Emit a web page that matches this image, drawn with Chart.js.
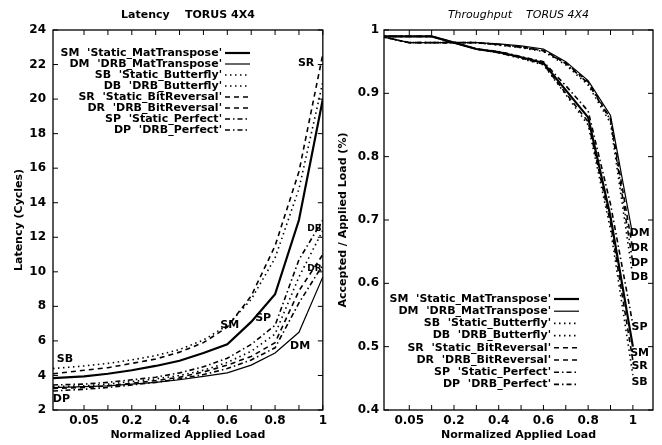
<!DOCTYPE html>
<html>
<head>
<meta charset="utf-8">
<script src="https://cdn.jsdelivr.net/npm/chart.js@4/dist/chart.umd.min.js"></script>
<style>
body { margin: 0; background: #fff; }
#wrap { position: relative; width: 662px; height: 445px; }
canvas { position: absolute; top: 0; }
</style>
</head>
<body>
<div id="wrap">
  <canvas id="latChart" width="331" height="445" style="left:0"></canvas>
  <canvas id="thrChart" width="331" height="445" style="left:331px"></canvas>
</div>
<script>
// load values (axis units; label "0.05" sits at 0)
const loads = [-0.13, 0, 0.1, 0.2, 0.3, 0.4, 0.5, 0.6, 0.7, 0.8, 0.9, 1.0];

const codes = ['SM', 'DM', 'SB', 'DB', 'SR', 'DR', 'SP', 'DP'];
const names = ["'Static_MatTranspose'", "'DRB_MatTranspose'", "'Static_Butterfly'", "'DRB_Butterfly'",
               "'Static_BitReversal'", "'DRB_BitReversal'", "'Static_Perfect'", "'DRB_Perfect'"];

// latency (cycles)
const latSM = [3.85, 3.95, 4.1, 4.3, 4.55, 4.85, 5.3, 5.8, 7.1, 8.7, 13.0, 20.0];
const latDM = [3.3, 3.35, 3.4, 3.5, 3.6, 3.75, 3.95, 4.15, 4.6, 5.3, 6.5, 9.7];
const latSB = [4.4, 4.55, 4.7, 4.9, 5.15, 5.5, 6.05, 6.9, 8.4, 10.8, 14.8, 21.0];
const latDB = [3.35, 3.4, 3.5, 3.65, 3.8, 4.0, 4.3, 4.75, 5.4, 6.4, 9.7, 12.4];
const latSR = [4.1, 4.3, 4.45, 4.7, 4.95, 5.35, 5.9, 6.8, 8.6, 11.5, 15.8, 22.6];
const latDR = [3.25, 3.3, 3.4, 3.55, 3.7, 3.9, 4.2, 4.6, 5.1, 5.9, 8.9, 11.0];
const latSP = [3.45, 3.5, 3.6, 3.75, 3.9, 4.15, 4.5, 5.0, 5.8, 6.9, 10.7, 13.0];
const latDP = [3.1, 3.2, 3.3, 3.45, 3.6, 3.8, 4.05, 4.4, 4.9, 5.6, 8.2, 10.4];

// accepted / applied load
const thrSM = [0.99, 0.99, 0.99, 0.98, 0.97, 0.965, 0.957, 0.948, 0.905, 0.862, 0.705, 0.50];
const thrDM = [0.99, 0.98, 0.98, 0.98, 0.98, 0.978, 0.975, 0.97, 0.95, 0.92, 0.865, 0.675];
const thrSB = [0.99, 0.99, 0.99, 0.98, 0.97, 0.964, 0.955, 0.945, 0.898, 0.85, 0.685, 0.455];
const thrDB = [0.99, 0.98, 0.98, 0.98, 0.98, 0.976, 0.972, 0.966, 0.945, 0.913, 0.853, 0.61];
const thrSR = [0.99, 0.99, 0.99, 0.98, 0.97, 0.964, 0.956, 0.946, 0.90, 0.855, 0.695, 0.478];
const thrDR = [0.99, 0.98, 0.98, 0.98, 0.98, 0.977, 0.973, 0.968, 0.948, 0.918, 0.86, 0.653];
const thrSP = [0.99, 0.99, 0.99, 0.98, 0.97, 0.966, 0.958, 0.95, 0.912, 0.872, 0.725, 0.535];
const thrDP = [0.99, 0.98, 0.98, 0.98, 0.98, 0.977, 0.973, 0.967, 0.947, 0.916, 0.858, 0.632];

// ticks
const xTickValues = [0, 0.1, 0.2, 0.3, 0.4, 0.5, 0.6, 0.7, 0.8, 0.9, 1.0];
const xLabelValues = [0, 0.2, 0.4, 0.6, 0.8, 1.0];
const xLabelTexts = ['0.05', '0.2', '0.4', '0.6', '0.8', '1'];
const latTicks = [2, 4, 6, 8, 10, 12, 14, 16, 18, 20, 22, 24];
const thrTicks = [0.4, 0.5, 0.6, 0.7, 0.8, 0.9, 1.0];
const thrTickTexts = ['0.4', '0.5', '0.6', '0.7', '0.8', '0.9', '1'];

// curve tags [text, load, value, font size]
const latTags = [['SR', 0.93, 22.1, 11], ['SM', 0.61, 6.9, 11], ['SP', 0.75, 7.3, 11], ['DM', 0.905, 5.7, 11],
                 ['DB', 0.965, 12.5, 9], ['DR', 0.965, 10.2, 9], ['SB', -0.08, 4.95, 11], ['DP', -0.095, 2.6, 11]];
const thrTags = [['DM', 1.03, 0.68, 11], ['DR', 1.03, 0.655, 11], ['DP', 1.03, 0.632, 11], ['DB', 1.03, 0.61, 11],
                 ['SP', 1.03, 0.531, 11], ['SM', 1.03, 0.49, 11], ['SR', 1.03, 0.47, 11], ['SB', 1.03, 0.444, 11]];

const lineStyle = {
  SM: { width: 2.2, dash: [] },
  DM: { width: 1.2, dash: [] },
  SB: { width: 1.6, dash: [1.5, 3.5] },
  DB: { width: 1.6, dash: [1.5, 3.5] },
  SR: { width: 1.6, dash: [5, 4] },
  DR: { width: 1.6, dash: [5, 4] },
  SP: { width: 1.6, dash: [5, 3, 1.5, 3] },
  DP: { width: 1.6, dash: [5, 3, 1.5, 3] }
};

const fam = '"DejaVu Sans", sans-serif';

function buildDatasets(byCode) {
  return codes.map(c => ({
    label: c,
    data: loads.map((x, i) => ({ x: x, y: byCode[c][i] })),
    borderColor: '#000',
    borderWidth: lineStyle[c].width,
    borderDash: lineStyle[c].dash,
    pointRadius: 0,
    tension: 0,
    fill: false
  }));
}

// frame, inward ticks, title, legend and tags
function framePlugin(cfg) {
  return {
    id: 'frame',
    afterDraw(chart) {
      const ctx = chart.ctx, a = chart.chartArea;
      const xs = chart.scales.x, ys = chart.scales.y;
      ctx.save();
      ctx.strokeStyle = '#000';
      ctx.lineWidth = 1.3;
      ctx.setLineDash([]);
      ctx.strokeRect(a.left, a.top, a.right - a.left, a.bottom - a.top);
      ctx.lineWidth = 1;
      ctx.beginPath();
      xs.ticks.forEach(t => {
        const px = xs.getPixelForValue(t.value);
        ctx.moveTo(px, a.bottom); ctx.lineTo(px, a.bottom - 5);
        ctx.moveTo(px, a.top); ctx.lineTo(px, a.top + 5);
      });
      ys.ticks.forEach(t => {
        const py = ys.getPixelForValue(t.value);
        ctx.moveTo(a.left, py); ctx.lineTo(a.left + 5, py);
        ctx.moveTo(a.right, py); ctx.lineTo(a.right - 5, py);
      });
      ctx.stroke();

      ctx.fillStyle = '#000';
      ctx.font = cfg.titleFont;
      ctx.textAlign = 'center';
      ctx.textBaseline = 'middle';
      ctx.fillText(cfg.title, (a.left + a.right) / 2, 15);

      // legend
      ctx.font = 'bold 11px ' + fam;
      ctx.textAlign = 'right';
      codes.forEach((c, i) => {
        const y = cfg.legendTop + i * cfg.legendRow;
        ctx.fillText(c + '  ' + names[i], cfg.legendRight, y);
        ctx.beginPath();
        ctx.lineWidth = lineStyle[c].width;
        ctx.setLineDash(lineStyle[c].dash);
        ctx.moveTo(cfg.legendRight + 3, y);
        ctx.lineTo(cfg.legendRight + 28, y);
        ctx.stroke();
      });
      ctx.setLineDash([]);

      ctx.textAlign = 'center';
      cfg.tags.forEach(t => {
        ctx.font = 'bold ' + t[3] + 'px ' + fam;
        ctx.fillText(t[0], xs.getPixelForValue(t[1]), ys.getPixelForValue(t[2]));
      });
      ctx.restore();
    }
  };
}

function makeChart(id, o) {
  return new Chart(document.getElementById(id), {
    type: 'line',
    data: { datasets: buildDatasets(o.series) },
    options: {
      responsive: false,
      animation: false,
      devicePixelRatio: 1,
      layout: { padding: { top: 30, right: o.padRight, left: 0, bottom: 0 } },
      plugins: { legend: { display: false }, tooltip: { enabled: false } },
      scales: {
        x: {
          type: 'linear',
          min: o.xMin, max: o.xMax,
          afterBuildTicks: s => { s.ticks = xTickValues.map(v => ({ value: v })); },
          afterFit: s => { s.height = 35; },
          grid: { display: false, drawTicks: false },
          border: { display: false },
          ticks: {
            autoSkip: false, maxRotation: 0, padding: 4, color: '#000',
            font: { family: fam, size: 12, weight: 'bold' },
            callback: v => {
              const i = xLabelValues.findIndex(t => Math.abs(t - v) < 1e-6);
              return i >= 0 ? xLabelTexts[i] : '';
            }
          },
          title: {
            display: true, text: 'Normalized Applied Load', color: '#000',
            font: { family: fam, size: 11, weight: 'bold' },
            padding: { top: 0, bottom: 3 }
          }
        },
        y: {
          type: 'linear',
          min: o.yMin, max: o.yMax,
          afterBuildTicks: s => { s.ticks = o.yTicks.map(v => ({ value: v })); },
          afterFit: s => { s.width = 53; },
          grid: { display: false, drawTicks: false },
          border: { display: false },
          ticks: {
            autoSkip: false, padding: o.yPad, color: '#000',
            font: { family: fam, size: 12, weight: 'bold' },
            callback: o.yLabel
          },
          title: {
            display: true, text: o.yTitle, color: '#000',
            font: { family: fam, size: 11, weight: 'bold' },
            padding: { top: o.yTitlePad, bottom: 0 }
          }
        }
      }
    },
    plugins: [framePlugin(o.frame)]
  });
}

makeChart('latChart', {
  series: { SM: latSM, DM: latDM, SB: latSB, DB: latDB, SR: latSR, DR: latDR, SP: latSP, DP: latDP },
  xMin: -0.13, xMax: 1.0, yMin: 2, yMax: 24, yTicks: latTicks, padRight: 6, yPad: 7,
  yLabel: v => String(v),
  yTitle: 'Latency (Cycles)', yTitlePad: 13,
  frame: { title: 'Latency    TORUS 4X4', titleFont: 'bold 11px ' + fam,
           legendRight: 222, legendTop: 53, legendRow: 11, tags: latTags }
});

makeChart('thrChart', {
  series: { SM: thrSM, DM: thrDM, SB: thrSB, DB: thrDB, SR: thrSR, DR: thrDR, SP: thrSP, DP: thrDP },
  xMin: -0.113, xMax: 1.09, yMin: 0.4, yMax: 1.0, yTicks: thrTicks, padRight: 9, yPad: 5,
  yLabel: v => { const i = thrTicks.findIndex(t => Math.abs(t - v) < 1e-6); return i >= 0 ? thrTickTexts[i] : ''; },
  yTitle: 'Accepted / Applied Load (%)', yTitlePad: 6,
  frame: { title: 'Throughput    TORUS 4X4', titleFont: 'italic 11px ' + fam,
           legendRight: 220, legendTop: 299, legendRow: 12.2, tags: thrTags }
});
</script>
</body>
</html>
